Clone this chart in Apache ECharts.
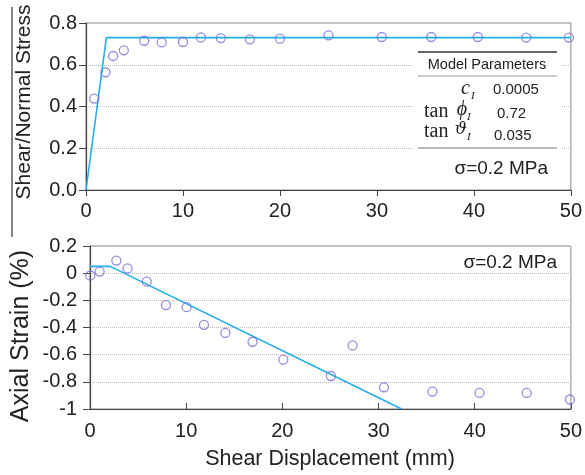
<!DOCTYPE html>
<html>
<head>
<meta charset="utf-8">
<script src="https://cdn.jsdelivr.net/npm/echarts@6/dist/echarts.min.js"></script>
<style>html,body{margin:0;padding:0;background:#fff;}#c{width:585px;height:475px;}</style>
</head>
<body>
<div id="c"></div>
<script>
// ---- data ----
const xTicks = [0, 10, 20, 30, 40, 50];
const stressTicks = [0, 0.2, 0.4, 0.6, 0.8];
const strainTicks = [-1, -0.8, -0.6, -0.4, -0.2, 0, 0.2];

const stressObsX = [0.85, 2.0, 2.8, 3.9, 6.0, 7.8, 10.0, 11.85, 13.9, 16.9, 20.0, 25.0, 30.5, 35.6, 40.4, 45.4, 49.8];
const stressObsY = [0.438, 0.564, 0.642, 0.669, 0.715, 0.707, 0.709, 0.731, 0.728, 0.722, 0.725, 0.741, 0.733, 0.733, 0.733, 0.730, 0.730];
const stressModelX = [0, 2.1, 50];
const stressModelY = [0, 0.73, 0.73];

const strainObsX = [0.03, 1.0, 2.74, 3.9, 5.9, 7.9, 10.05, 11.85, 14.07, 16.9, 20.1, 25.05, 27.3, 30.56, 35.6, 40.5, 45.4, 49.9];
const strainObsY = [-0.017, 0.012, 0.093, 0.035, -0.063, -0.235, -0.25, -0.38, -0.44, -0.505, -0.637, -0.757, -0.532, -0.84, -0.872, -0.882, -0.882, -0.93];
const strainModelX = [0, 2.1, 32.4];
const strainModelY = [0.05, 0.05, -1];

const paramValues = ['0.0005', '0.72', '0.035'];
const stressLabel = 'σ=0.2 MPa';

// ---- chart ----
const zip = (xs, ys) => xs.map((x, i) => [x, ys[i]]);
const FONT = '"Liberation Sans", Arial, sans-serif';
const SERIF = '"Liberation Serif", "Times New Roman", serif';
const SERIF2 = '"DejaVu Serif", serif';
const axisCol = '#444';
const lineCol = '#22aeea';
const markCol = '#7b70d4';

const chart = echarts.init(document.getElementById('c'), null, {renderer: 'canvas'});

const xAxisBase = (gi, inside, margin) => ({
  type: 'value', gridIndex: gi, min: xTicks[0], max: xTicks[xTicks.length - 1], interval: xTicks[1] - xTicks[0],
  axisLine: {show: true, onZero: false, lineStyle: {color: axisCol, width: 1.2}},
  axisTick: {show: true, inside: inside, length: 6, lineStyle: {color: axisCol}},
  axisLabel: {fontSize: 20, color: '#222', fontFamily: FONT, margin: margin},
  splitLine: {show: false}
});

chart.setOption({
  animation: false,
  backgroundColor: '#fff',
  grid: [
    {left: 86, right: 11, top: 23, height: 167, show: true, borderColor: '#888', borderWidth: 1},
    {left: 90, right: 14, top: 246, height: 163, show: true, borderColor: '#888', borderWidth: 1}
  ],
  xAxis: [xAxisBase(0, false, 11), xAxisBase(1, true, 12)],
  yAxis: [
    {
      type: 'value', gridIndex: 0, min: stressTicks[0], max: stressTicks[stressTicks.length - 1], interval: 0.2,
      axisLine: {show: true, onZero: false, lineStyle: {color: axisCol, width: 1.2}},
      axisTick: {show: true, length: 7, lineStyle: {color: axisCol}},
      axisLabel: {fontSize: 20, color: '#222', fontFamily: FONT, margin: 9, formatter: v => v.toFixed(1)},
      splitLine: {show: true, showMaxLine: false, showMinLine: false, lineStyle: {color: '#bbb', type: 'dotted', width: 1}}
    },
    {
      type: 'value', gridIndex: 1, min: strainTicks[0], max: strainTicks[strainTicks.length - 1], interval: 0.2,
      axisLine: {show: true, onZero: false, lineStyle: {color: axisCol, width: 1.2}},
      axisTick: {show: true, length: 7, lineStyle: {color: axisCol}},
      axisLabel: {fontSize: 20, color: '#222', fontFamily: FONT, margin: 13, formatter: v => String(Number(v.toFixed(1)))},
      splitLine: {show: true, showMinLine: false, lineStyle: {color: '#bbb', type: 'dotted', width: 1}}
    }
  ],
  series: [
    {type: 'line', xAxisIndex: 0, yAxisIndex: 0, data: zip(stressModelX, stressModelY), showSymbol: false, symbol: 'none',
      lineStyle: {color: lineCol, width: 1.6}, z: 3},
    {type: 'scatter', xAxisIndex: 0, yAxisIndex: 0, data: zip(stressObsX, stressObsY), symbol: 'circle', symbolSize: 9,
      itemStyle: {color: 'rgba(255,255,255,0)', borderColor: markCol, borderWidth: 1.3}, z: 4},
    {type: 'line', xAxisIndex: 1, yAxisIndex: 1, data: zip(strainModelX, strainModelY), showSymbol: false, symbol: 'none',
      lineStyle: {color: lineCol, width: 1.6}, z: 3},
    {type: 'scatter', xAxisIndex: 1, yAxisIndex: 1, data: zip(strainObsX, strainObsY), symbol: 'circle', symbolSize: 9,
      itemStyle: {color: 'rgba(255,255,255,0)', borderColor: markCol, borderWidth: 1.3}, z: 4}
  ],
  graphic: [
    // stray vertical rule at far left
    {type: 'line', z: 10, shape: {x1: 12, y1: 7, x2: 12, y2: 237}, style: {stroke: '#333', lineWidth: 1.2}},
    // axis titles
    {type: 'text', z: 10, x: 24, y: 102, rotation: Math.PI / 2,
      style: {text: 'Shear/Normal Stress', font: '21px ' + FONT, fill: '#222', align: 'center', verticalAlign: 'middle'}},
    {type: 'text', z: 10, x: 21, y: 336, rotation: Math.PI / 2,
      style: {text: 'Axial Strain (%)', font: '25px ' + FONT, fill: '#222', align: 'center', verticalAlign: 'middle'}},
    {type: 'text', z: 10, x: 330, y: 459,
      style: {text: 'Shear Displacement (mm)', font: '21.5px ' + FONT, fill: '#222', align: 'center', verticalAlign: 'middle'}},
    // parameter box
    {type: 'rect', z: 10, shape: {x: 413, y: 47, width: 149, height: 138}, style: {fill: '#fff'}},
    {type: 'line', z: 11, shape: {x1: 418, y1: 52, x2: 557, y2: 52}, style: {stroke: '#333', lineWidth: 1.4}},
    {type: 'line', z: 11, shape: {x1: 418, y1: 76, x2: 557, y2: 76}, style: {stroke: '#999', lineWidth: 1.2}},
    {type: 'line', z: 11, shape: {x1: 418, y1: 148, x2: 557, y2: 148}, style: {stroke: '#777', lineWidth: 1.2}},
    {type: 'text', z: 11, x: 487, y: 65,
      style: {text: 'Model Parameters', font: '14.5px ' + FONT, fill: '#222', align: 'center', verticalAlign: 'middle'}},
    // c_I
    {type: 'text', z: 11, x: 470, y: 89, style: {text: 'c', font: 'italic 20px ' + SERIF, fill: '#222', align: 'right', verticalAlign: 'middle'}},
    {type: 'text', z: 11, x: 471, y: 96, style: {text: 'I', font: 'italic 11px ' + SERIF, fill: '#222', align: 'left', verticalAlign: 'middle'}},
    {type: 'text', z: 11, x: 493, y: 90, style: {text: paramValues[0], font: '15px ' + FONT, fill: '#222', align: 'left', verticalAlign: 'middle'}},
    // tan phi_I
    {type: 'text', z: 11, x: 424, y: 112, style: {text: 'tan', font: '20px ' + SERIF, fill: '#222', align: 'left', verticalAlign: 'middle'}},
    {type: 'text', z: 11, x: 467, y: 110, style: {text: 'ϕ', font: 'italic 20px ' + SERIF, fill: '#222', align: 'right', verticalAlign: 'middle'}},
    {type: 'text', z: 11, x: 467, y: 117, style: {text: 'I', font: 'italic 11px ' + SERIF, fill: '#222', align: 'left', verticalAlign: 'middle'}},
    {type: 'text', z: 11, x: 497, y: 114, style: {text: paramValues[1], font: '15px ' + FONT, fill: '#222', align: 'left', verticalAlign: 'middle'}},
    // tan theta_I
    {type: 'text', z: 11, x: 424, y: 132, style: {text: 'tan', font: '20px ' + SERIF, fill: '#222', align: 'left', verticalAlign: 'middle'}},
    {type: 'text', z: 11, x: 467, y: 130, style: {text: 'ϑ', font: 'italic 17px ' + SERIF2, fill: '#222', align: 'right', verticalAlign: 'middle'}},
    {type: 'text', z: 11, x: 467, y: 137, style: {text: 'I', font: 'italic 11px ' + SERIF, fill: '#222', align: 'left', verticalAlign: 'middle'}},
    {type: 'text', z: 11, x: 494, y: 136, style: {text: paramValues[2], font: '15px ' + FONT, fill: '#222', align: 'left', verticalAlign: 'middle'}},
    // sigma labels
    {type: 'text', z: 11, x: 548, y: 169, style: {text: stressLabel, font: '19px ' + FONT, fill: '#222', align: 'right', verticalAlign: 'middle'}},
    {type: 'text', z: 11, x: 557, y: 263, style: {text: stressLabel, font: '19px ' + FONT, fill: '#222', align: 'right', verticalAlign: 'middle'}}
  ]
});
</script>
</body>
</html>
